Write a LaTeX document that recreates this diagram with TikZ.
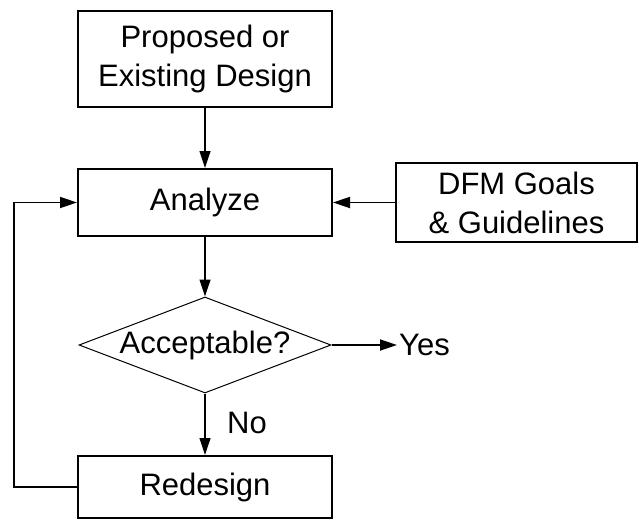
\documentclass[tikz,border=0pt]{standalone}
\usepackage{fontspec}
\setmainfont{Liberation Sans}
\usetikzlibrary{shapes.geometric, arrows.meta}

\begin{document}
\begin{tikzpicture}[x=1pt, y=-1pt,
    box/.style={draw, line width=2pt, minimum width=254pt, inner sep=0,
    align=center, font=\fontsize{31}{39}\selectfont},
    arr/.style={line width=1.2pt, -{Triangle[length=17pt, width=11pt]}}]

    \useasboundingbox (0, 0) rectangle (639, 519);

    % Boxes
    \node[box, minimum height=96pt] (design) at (205, 59)
    {Proposed or\\Existing Design};
    \node[box, minimum height=67pt] (analyze) at (205, 202.5) {Analyze};
    \node[box, minimum width=241pt, minimum height=79pt] (dfm) at (516.5, 202.5)
    {DFM Goals\\\& Guidelines};
    \node[draw, shape=diamond, aspect=2.625, line width=1pt, inner sep=0,
    minimum width=252pt, minimum height=96pt,
    font=\fontsize{31}{39}\selectfont] (accept) at (205, 345) {Acceptable?};
    \node[box, minimum height=62pt] (redesign) at (205, 487) {Redesign};

    % Answers
    \node[anchor=west, inner sep=2pt, font=\fontsize{31}{39}\selectfont]
    (yes) at (397, 345) {Yes};
    \node[anchor=west, inner sep=0, font=\fontsize{31}{39}\selectfont]
    (no) at (227, 422.5) {No};
    \coordinate (corner) at (14, 487);

    % Lines
    \foreach \a/\b in {design/analyze, analyze/accept, accept/redesign}
        \draw[arr] (\a) -- (\b);

    \draw[arr, line width=1.8pt] (dfm.west) -- (analyze.east);
    \draw[arr, line width=1.8pt] (accept.east) -- (yes.west);
    \draw[arr, line width=1.8pt] (redesign.west) -- (corner) |- (analyze.west);

\end{tikzpicture}
\end{document}
